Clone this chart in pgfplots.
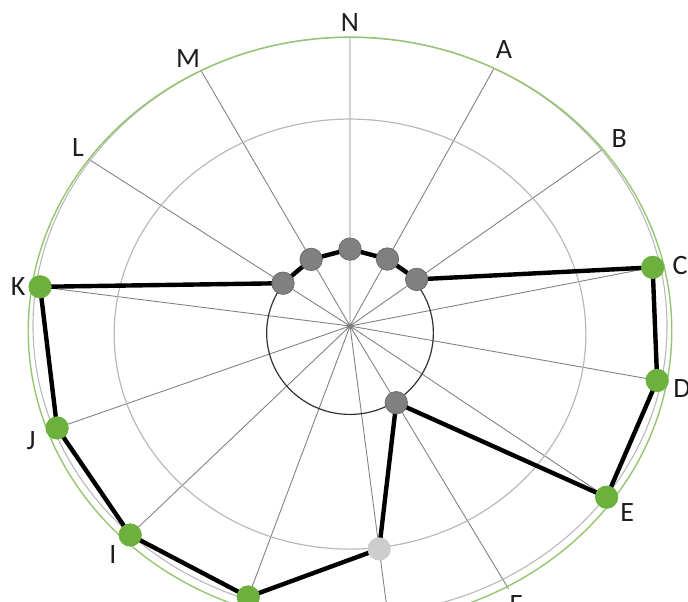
\documentclass[border=0pt]{standalone}
\usepackage{pgfplots}
\pgfplotsset{compat=1.18}
\usepackage{fontspec}
\setmainfont{Carlito}

\definecolor{dotgreen}{RGB}{108,176,62}
\definecolor{ringgreen}{RGB}{150,196,112}
\definecolor{dotgrey}{RGB}{128,128,128}
\definecolor{dotlight}{RGB}{205,205,205}
\definecolor{spokegrey}{RGB}{130,130,130}
\definecolor{ringgrey}{RGB}{185,185,185}
\definecolor{labelgrey}{RGB}{30,30,30}

\begin{document}
\begin{tikzpicture}
\useasboundingbox (0,0) rectangle (344pt,300.5pt);
\begin{axis}[
    at={(0,0)}, anchor=south west,
    scale only axis,
    width=344pt, height=300.5pt,
    xmin=-110.41, xmax=106.62,
    ymin=-95.16, ymax=112.80,
    hide axis,
    clip=true,
]
% spokes (angle, length)
\addplot[spokegrey, line width=0.45pt, data cs=polar] coordinates {
    (90,99.9) (0,0) (63,100.1) (0,0) (37.5,100.7) (0,0) (12,101.6) (0,0)
    (-11,102.4) (0,0) (-36.2,103.2) (0,0) (-61.2,103.8) (0,0) (-83.2,104.1) (0,0)
    (-108.9,104) (0,0) (-133.8,103.5) (0,0) (-159.1,102.7) (0,0) (172.1,101.7) (0,0)
    (145,100.8) (0,0) (118,100.1) (0,0)
};

% rings
\draw[ringgrey, line width=0.55pt] (axis cs:0,0) ellipse [x radius=100, y radius=100];
\draw[ringgrey, line width=0.6pt] (axis cs:0,-2.8) ellipse [x radius=74.4, y radius=74.4];
\draw[ringgreen, line width=0.7pt] (axis cs:0,-1.6) ellipse [x radius=101.5, y radius=101.5];
\draw[black!80, line width=0.6pt] (axis cs:0,-2.4) ellipse [x radius=26.3, y radius=28.2];

% series
\addplot[black, line width=2.2pt, line join=round, data cs=polar] coordinates {
    (90,26.6) (63,26) (37.5,26.5) (12,97.6) (-11,98.7) (-36.2,100.3)
    (-61.2,30.3) (-83.2,77.7) (-108.9,99.1) (-133.8,100.2) (-159.1,98.9)
    (172.1,98.7) (145,25.8) (118,26.1) (90,26.6)
};
\addplot[only marks, mark=*, mark size=5.6pt, data cs=polar,
    mark options={fill=dotgreen, draw=dotgreen}] coordinates {
    (12,97.6) (-11,98.7) (-36.2,100.3) (-108.9,99.1) (-133.8,100.2)
    (-159.1,98.9) (172.1,98.7)
};
\addplot[only marks, mark=*, mark size=5.6pt, data cs=polar,
    mark options={fill=dotgrey, draw=dotgrey!85!black}] coordinates {
    (90,26.6) (63,26) (37.5,26.5) (-61.2,30.3) (145,25.8) (118,26.1)
};
\addplot[only marks, mark=*, mark size=5.6pt, data cs=polar,
    mark options={fill=dotlight, draw=dotlight}] coordinates {
    (-83.2,77.7)
};

% category labels
\pgfplotsset{lab/.style={draw=none, mark=none, nodes near coords, point meta=explicit symbolic,
    every node near coord/.append style={anchor=#1, inner sep=0pt,
        font=\fontsize{14}{16}\selectfont, text=labelgrey}}}
\addplot[lab=center] table[meta=lab] {
x y lab
0 105 N
48.6 95.8 A
84.9 64.7 B
104.1 20.8 C
104.7 -21.5 D
87.4 -64.4 E
-74.8 -79.2 I
-100.6 -39.8 J
-104.7 13.5 K
-85.8 61.6 L
-51.1 92.6 M
};
\addplot[lab=north] table[meta=lab] {
x y lab
52.4 -93.2 F
};
\end{axis}
\end{tikzpicture}
\end{document}
